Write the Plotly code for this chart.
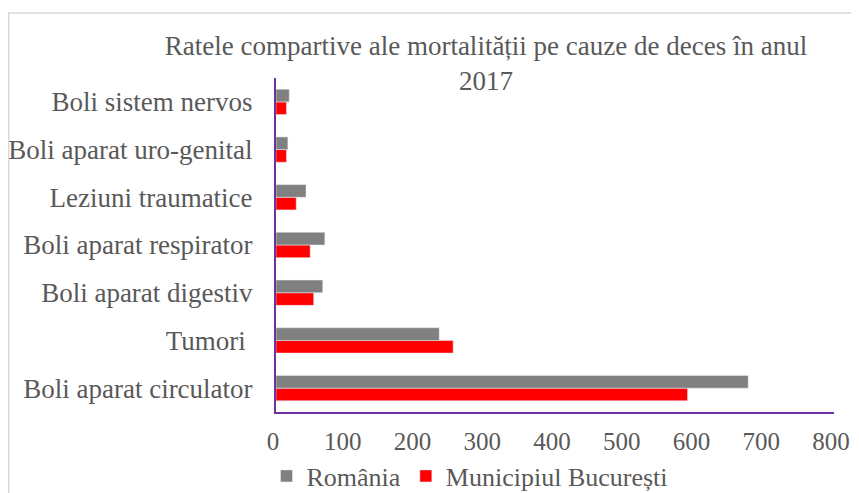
import plotly.graph_objects as go

categories = ["Boli aparat circulator", "Tumori ", "Boli aparat digestiv", "Boli aparat respirator",
              "Leziuni traumatice", "Boli aparat uro-genital", "Boli sistem nervos"]
romania = [677, 234, 67, 70, 43, 17, 19]
bucuresti = [590, 254, 54, 49, 29, 15, 15]
x_ticks = [0, 100, 200, 300, 400, 500, 600, 700, 800]

FONT = "Liberation Serif, Times New Roman, serif"
TXT = "#595959"
PURPLE = "#7030A0"
FS = 26

# the page body has an 8px margin: the figure starts 8px in and is clipped at 851px
OFF = 8
W, H = 851 - OFF, 493 - OFF
L, T = 276 - OFF, 78 - OFF
R = W - (834 - OFF)
B = H - (412 - OFF)
PW, PH = W - L - R, H - T - B


def px_x(p):
    return (p - OFF - L) / PW


def px_y(p):
    return (H - B - (p - OFF)) / PH


fig = go.Figure()
fig.add_trace(go.Bar(y=categories, x=bucuresti, orientation="h", name="Municipiul București",
                     marker=dict(color="#FF0000"), legendrank=2))
fig.add_trace(go.Bar(y=categories, x=romania, orientation="h", name="România",
                     marker=dict(color="#808080"), legendrank=1))

fig.update_layout(
    width=W, height=H,
    margin=dict(l=L, r=R, t=T, b=B, autoexpand=False),
    paper_bgcolor="white", plot_bgcolor="white",
    barmode="group", bargap=0.47, bargroupgap=0,
    font=dict(family=FONT, size=FS, color=TXT),
    title=dict(text="Ratele compartive ale mortalității pe cauze de deces în anul<br>2017",
               x=(486 - OFF) / W, xanchor="center", y=1 - (55 - OFF) / H, yanchor="middle",
               font=dict(family=FONT, size=27, color=TXT)),
    xaxis=dict(range=[0, 800], tickvals=x_ticks, showgrid=False, zeroline=False,
               showline=True, linecolor=PURPLE, linewidth=2, ticks="", automargin=False,
               ticklabelstandoff=6, ticklabelshift=-3, tickfont=dict(size=25, color=TXT)),
    yaxis=dict(showgrid=False, zeroline=False, showline=True, linecolor=PURPLE, linewidth=2,
               ticks="", automargin=False,
               ticklabelstandoff=16, tickfont=dict(size=27, color=TXT)),
    legend=dict(orientation="h", x=px_x(470), xanchor="center", y=px_y(476), yanchor="middle",
                font=dict(size=FS, color=TXT), itemwidth=30, traceorder="normal"),
    showlegend=True,
)
fig.add_shape(type="rect", xref="paper", yref="paper",
              x0=px_x(8.75), x1=px_x(880), y0=px_y(520), y1=px_y(13),
              line=dict(color="#D9D9D9", width=1.5), fillcolor="rgba(0,0,0,0)", layer="below")

fig.write_html("out.html")
